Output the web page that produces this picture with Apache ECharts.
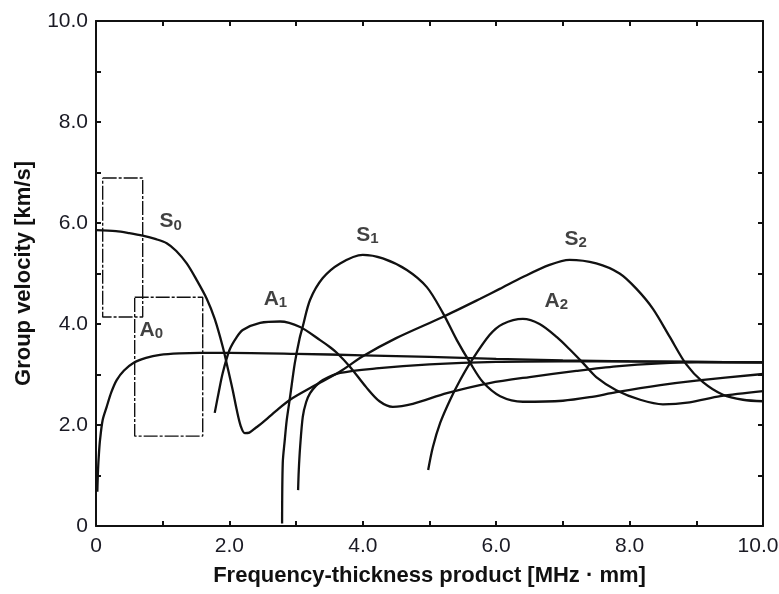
<!DOCTYPE html>
<html>
<head>
<meta charset="utf-8">
<title>Lamb wave group velocity dispersion</title>
<script src="https://cdn.jsdelivr.net/npm/echarts@6/dist/echarts.min.js"></script>
<style>
  html, body { margin: 0; padding: 0; background: #ffffff; }
  #chart { width: 779px; height: 594px; }
</style>
</head>
<body>
<div id="chart"></div>
<script>
// Group velocity (km/s) against frequency-thickness product (MHz·mm), one [fd, v] list per branch.
const modeA0 = [[0.02,0.68],[0.03,1.1],[0.045,1.45],[0.06,1.7],[0.1,2.1],[0.16,2.36],[0.23,2.65],[0.31,2.89],[0.42,3.08],[0.56,3.23],[0.75,3.33],[0.96,3.39],[1.25,3.42],[1.56,3.43],[2.0,3.43],[3.0,3.41],[4.0,3.38],[5.0,3.35],[6.0,3.31],[7.0,3.28],[8.0,3.26],[9.0,3.25],[10.0,3.24]];
const modeS0 = [[0,5.86],[0.3,5.84],[0.5,5.8],[0.7,5.75],[0.9,5.68],[1.06,5.6],[1.2,5.45],[1.36,5.2],[1.51,4.87],[1.66,4.5],[1.78,4.1],[1.9,3.55],[1.98,3.1],[2.05,2.69],[2.11,2.3],[2.17,1.98],[2.23,1.84],[2.3,1.85],[2.4,1.95],[2.5,2.05],[2.7,2.28],[2.91,2.5],[3.25,2.76],[3.66,3.06],[4.0,3.36],[4.5,3.72],[5.2,4.14],[5.76,4.5],[6.06,4.7],[6.4,4.93],[6.8,5.17],[7.1,5.27],[7.5,5.2],[7.85,5.0],[8.1,4.7],[8.35,4.3],[8.6,3.75],[8.85,3.2],[9.1,2.85],[9.4,2.6],[9.7,2.5],[10,2.47]];
const modeS2 = [[3.03,0.71],[3.04,1.1],[3.06,1.56],[3.1,2.16],[3.15,2.45],[3.21,2.63],[3.3,2.78],[3.4,2.89],[3.66,3.03],[4.2,3.12],[5.0,3.2],[6.0,3.25],[7.0,3.26],[8.0,3.26],[9.0,3.25],[10.0,3.24]];
const modeS1 = [[2.79,0.05],[2.8,1.25],[2.83,1.7],[2.86,2.1],[2.91,2.56],[2.98,3.22],[3.05,3.7],[3.1,3.95],[3.21,4.48],[3.4,4.91],[3.66,5.2],[4.0,5.37],[4.3,5.3],[4.66,5.07],[4.96,4.73],[5.2,4.22],[5.41,3.68],[5.61,3.23],[5.8,2.85],[6.06,2.57],[6.4,2.46],[7.0,2.48],[7.4,2.55],[7.8,2.65],[8.46,2.79],[9.0,2.88],[10.0,3.01]];
const modeA1 = [[1.78,2.24],[1.84,2.65],[1.9,3.03],[2.0,3.48],[2.1,3.72],[2.2,3.88],[2.46,4.02],[2.76,4.05],[3.06,3.94],[3.36,3.68],[3.51,3.54],[3.61,3.43],[3.81,3.15],[4.05,2.75],[4.25,2.47],[4.45,2.36],[4.75,2.42],[5.26,2.63],[5.9,2.83],[6.5,2.95],[7.2,3.07],[7.8,3.16],[8.46,3.22],[9.0,3.24],[10.0,3.24]];
const modeA2 = [[4.98,1.11],[5.05,1.56],[5.16,2.04],[5.31,2.5],[5.46,2.89],[5.61,3.23],[5.9,3.78],[6.1,4.0],[6.4,4.1],[6.65,4.0],[6.91,3.74],[7.1,3.5],[7.3,3.23],[7.5,2.95],[7.8,2.69],[8.16,2.5],[8.5,2.41],[8.9,2.45],[9.36,2.57],[10.0,2.67]];

// Two marked windows: corners as [fd, v].
const windowS0 = [[0.1,6.89],[0.7,6.89],[0.7,4.14],[0.1,4.14],[0.1,6.89]];
const windowA0 = [[0.58,4.53],[1.6,4.53],[1.6,1.78],[0.58,1.78],[0.58,4.53]];

// Mode names, anchored at [fd, v].
const modeNames = [
  { base: 'S', sub: '0', at: [1.12, 6.03] },
  { base: 'A', sub: '0', at: [0.83, 3.88] },
  { base: 'A', sub: '1', at: [2.69, 4.49] },
  { base: 'S', sub: '1', at: [4.07, 5.76] },
  { base: 'S', sub: '2', at: [7.19, 5.68] },
  { base: 'A', sub: '2', at: [6.9, 4.45] }
];

const xTicks = [0, 2, 4, 6, 8, 10];
const yTicks = [0, 2, 4, 6, 8, 10];

const FONT = '"Liberation Sans", Arial, sans-serif';
const INK = '#111111';

function tickText(v, list) {
  if (list.indexOf(v) < 0) return '';
  return v === 0 ? '0' : v.toFixed(1);
}

const curveStyle = { color: INK, width: 2.3 };

function curve(name, data) {
  return {
    name: name, type: 'line', data: data, showSymbol: false, symbol: 'none',
    smooth: 0.3, lineStyle: curveStyle, silent: true, z: 3
  };
}

function windowBox(name, data) {
  return {
    name: name, type: 'line', data: data, showSymbol: false, symbol: 'none',
    lineStyle: { color: INK, width: 1.4, type: [14, 2, 3, 2] }, silent: true, z: 2
  };
}

const chart = echarts.init(document.getElementById('chart'), null, { renderer: 'canvas' });

const axisCommon = {
  type: 'value', min: 0, max: 10, interval: 1,
  axisLine: { show: true, onZero: false, lineStyle: { color: INK, width: 2 } },
  axisTick: { show: true, inside: true, length: 5, lineStyle: { color: INK, width: 2 } },
  splitLine: { show: false }
};

chart.setOption({
  animation: false,
  backgroundColor: '#ffffff',
  grid: { left: 96, right: 16, top: 21, bottom: 68, containLabel: false, outerBoundsMode: 'none' },
  xAxis: [
    Object.assign({}, axisCommon, {
      position: 'bottom',
      name: 'Frequency-thickness product [MHz · mm]',
      nameLocation: 'middle', nameGap: 39,
      nameTextStyle: { fontFamily: FONT, fontSize: 22, fontWeight: 'bold', color: INK },
      axisLabel: {
        margin: 10, fontFamily: FONT, fontSize: 21, color: '#1a1a24',
        // the last label is nudged left so it stays inside the page
        formatter: function (v) {
          const t = tickText(v, xTicks);
          return v === 10 ? '{edge|' + t + '}' : t;
        },
        rich: { edge: { fontFamily: FONT, fontSize: 21, color: '#1a1a24', padding: [0, 10, 0, 0] } }
      }
    }),
    Object.assign({}, axisCommon, { position: 'top', axisLabel: { show: false } })
  ],
  yAxis: [
    Object.assign({}, axisCommon, {
      position: 'left',
      name: 'Group velocity [km/s]',
      nameLocation: 'middle', nameGap: 61,
      nameTextStyle: { fontFamily: FONT, fontSize: 22, fontWeight: 'bold', color: INK },
      axisLabel: {
        margin: 8, fontFamily: FONT, fontSize: 21, color: '#1a1a24',
        formatter: function (v) { return tickText(v, yTicks); }
      }
    }),
    Object.assign({}, axisCommon, { position: 'right', axisLabel: { show: false } })
  ],
  series: [
    curve('A0', modeA0),
    curve('S0', modeS0),
    curve('S2', modeS2),
    curve('S1', modeS1),
    curve('A1', modeA1),
    curve('A2', modeA2),
    windowBox('window S0', windowS0),
    windowBox('window A0', windowA0),
    {
      name: 'mode names', type: 'scatter', symbolSize: 0, silent: true, z: 5,
      data: modeNames.map(function (m) { return { value: m.at, base: m.base, sub: m.sub }; }),
      label: {
        show: true, position: 'inside',
        formatter: function (p) { return '{b|' + p.data.base + '}{s|' + p.data.sub + '}'; },
        rich: {
          b: { fontFamily: FONT, fontSize: 21, color: INK, fontWeight: 'bold' },
          s: { fontFamily: FONT, fontSize: 15, color: INK, fontWeight: 'bold', verticalAlign: 'bottom', padding: [8, 0, 0, 0] }
        }
      }
    }
  ]
});
</script>
</body>
</html>
